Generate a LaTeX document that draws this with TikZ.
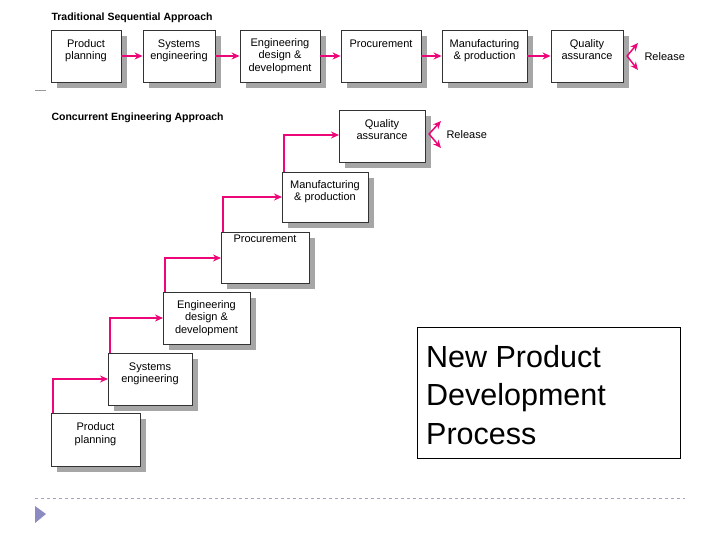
\documentclass[tikz,border=0pt]{standalone}
\usepackage{fontspec}
\usetikzlibrary{arrows.meta}
\setmainfont{Liberation Sans}
\begin{document}
\begin{tikzpicture}[x=1pt,y=-1pt,
 box/.style={draw=black!80,fill=white,line width=0.8pt,align=center,font=\fontsize{11}{12.5}\selectfont,inner sep=0pt},
 arr/.style={draw=magenta!80!red,line width=1.5pt,-{Stealth[length=8pt,width=7pt]}},
 head/.style={font=\bfseries\fontsize{10.5}{11}\selectfont,anchor=west}]
\useasboundingbox (0,0) rectangle (720,540);
\newcommand{\bx}[6]{%
 \fill[black!35] (#1+6,#2+6) rectangle (#3+6,#4+6);
 \node[box,minimum width=#3-#1,minimum height=#4-#2] (#5) at ({(#1+#3)/2},{(#2+#4)/2}) {#6};}
\node[head] (h1) at (48,18) {Traditional Sequential Approach};
\bx{51}{30}{121}{82}{a1}{Product\\planning\\ }
\bx{143}{30}{215}{82}{a2}{Systems\\engineering\\ }
\bx{240}{30}{320}{82}{a3}{Engineering\\design \&\\development}
\bx{341}{30}{421}{82}{a4}{Procurement\\ \\ }
\bx{442}{30}{527}{82}{a5}{Manufacturing\\\& production\\ }
\bx{551}{30}{623}{82}{a6}{Quality\\assurance\\ }
\draw[arr] (a1) -- (a2); \draw[arr] (a2) -- (a3); \draw[arr] (a3) -- (a4);
\draw[arr] (a4) -- (a5); \draw[arr] (a5) -- (a6);
\node[font=\fontsize{11}{12}\selectfont,anchor=west] (r1) at (641,57) {Release};
\coordinate (r1a) at (638,43); \coordinate (r1b) at (638,70);
\coordinate (q1) at (627,56);
\draw[arr] (q1) -- (r1a);
\draw[arr] (q1) -- (r1b);
\draw[black!40] (35,90) -- (46,90);
\node[head] (h2) at (48,118) {Concurrent Engineering Approach};
\bx{51}{413}{140}{466}{b1}{Product\\planning\\ }
\bx{108}{353}{192}{405}{b2}{Systems\\engineering\\ }
\bx{163}{292}{250}{344}{b3}{Engineering\\design \&\\development}
\bx{221}{232}{309}{283}{b4}{Procurement\\ \\ \\ }
\bx{282}{172}{368}{222}{b5}{Manufacturing\\\& production\\ }
\bx{339}{110}{425}{162}{b6}{Quality\\assurance\\ }
\draw[arr] (53,413) |- (108,379);
\draw[arr] (110,353) |- (163,318);
\draw[arr] (165,292) |- (221,258);
\draw[arr] (223,232) |- (282,197);
\draw[arr] (284,172) |- (339,135);
\node[font=\fontsize{11}{12}\selectfont,anchor=west] (r2) at (443,135) {Release};
\coordinate (r2a) at (441,121); \coordinate (r2b) at (441,148);
\coordinate (q2) at (429,134);
\draw[arr] (q2) -- (r2a);
\draw[arr] (q2) -- (r2b);
\node[draw=black,line width=0.6pt,minimum width=263,minimum height=131,inner sep=0pt] (t) at (548.5,392.5) {};
\node[anchor=north west,align=left,font=\fontsize{30.5}{38.5}\selectfont,inner sep=0pt] (tt) at (426,345) {New Product\\Development\\Process};
\draw[blue!20!gray!60,dashed,line width=0.8pt] (35,498) -- (685,498);
\fill[blue!30!gray!70] (35,506) -- (46,514) -- (35,523) -- cycle;
\end{tikzpicture}
\end{document}
